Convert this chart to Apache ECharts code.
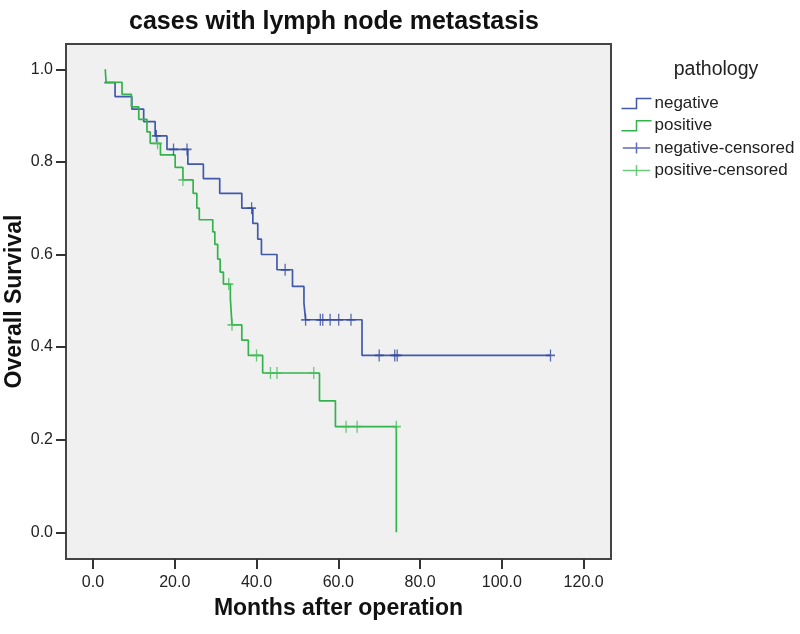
<!DOCTYPE html>
<html>
<head>
<meta charset="utf-8">
<script src="https://cdn.jsdelivr.net/npm/echarts@6/dist/echarts.min.js"></script>
<style>html,body{margin:0;padding:0;background:#fff}#c{width:800px;height:634px}</style>
</head>
<body>
<div id="c"></div>
<script>
// Kaplan-Meier step data (time in months, survival after the event)
const negTimes = [2.8, 5.4, 9.5, 12.4, 15.2, 18.1, 23.2, 27.0, 31.0, 36.4, 39.1, 40.3, 41.2, 45.0, 48.8, 51.6, 52.0, 65.8, 111.9];
const negSurv  = [0.971, 0.941, 0.914, 0.887, 0.856, 0.827, 0.795, 0.764, 0.732, 0.700, 0.667, 0.633, 0.600, 0.567, 0.531, 0.495, 0.459, 0.382, 0.382];
const posTimes = [3.0, 3.2, 7.1, 9.4, 11.2, 13.2, 14.0, 16.5, 20.1, 22.0, 24.5, 25.4, 26.0, 29.3, 29.8, 30.5, 31.1, 31.9, 33.6, 34.0, 36.4, 38.0, 41.5, 55.4, 59.3, 74.2];
const posSurv  = [1.0, 0.972, 0.946, 0.919, 0.892, 0.865, 0.840, 0.815, 0.788, 0.761, 0.732, 0.700, 0.675, 0.649, 0.622, 0.590, 0.562, 0.536, 0.505, 0.448, 0.415, 0.382, 0.344, 0.284, 0.228, 0.0];
// censored observations
const negCensTimes = [15.5, 19.7, 23.0, 38.8, 47.0, 52.0, 55.6, 56.2, 58.0, 60.1, 63.1, 70.0, 73.8, 74.4, 111.9];
const negCensSurv  = [0.856, 0.827, 0.827, 0.700, 0.567, 0.459, 0.459, 0.459, 0.459, 0.459, 0.459, 0.382, 0.382, 0.382, 0.382];
const posCensTimes = [15.8, 22.0, 33.2, 34.0, 40.0, 43.4, 45.0, 54.0, 61.9, 64.6, 74.2];
const posCensSurv  = [0.840, 0.761, 0.536, 0.448, 0.382, 0.344, 0.344, 0.344, 0.228, 0.228, 0.228];
// axis ticks
const xTicks = [0, 20, 40, 60, 80, 100, 120];
const yTicks = [0, 0.2, 0.4, 0.6, 0.8, 1.0];
const seriesNames = ['negative', 'positive', 'negative-censored', 'positive-censored'];

const zip = (a, b) => a.map((v, i) => [v, b[i]]);

const cNeg = '#4159a9', cPos = '#34b24b', cNegC = '#34499f', cPosC = '#47bd5a';
const stepIcon = 'path://M0,10 L15,10 L15,0 L30,0';
const censIcon = 'path://M0,6 L30,6 M15,0 L15,12';
const censSym = 'path://M5,0 L5,12 M0,6 L10,6';

const chart = echarts.init(document.getElementById('c'), null, {renderer: 'canvas'});
chart.setOption({
  animation: false,
  backgroundColor: '#ffffff',
  textStyle: {fontFamily: 'Liberation Sans, Arial, sans-serif'},
  title: [
    {text: 'cases with lymph node metastasis', left: 329, top: 5, textAlign: 'center',
     textStyle: {fontSize: 25, fontWeight: 'bold', color: '#111'}},
    {text: 'pathology', left: 711, top: 55, textAlign: 'center',
     textStyle: {fontSize: 19.5, fontWeight: 'normal', color: '#222'}}
  ],
  legend: {
    orient: 'vertical', left: 619, top: 95, padding: 0, itemWidth: 30, itemHeight: 11, itemGap: 5.3,
    textStyle: {fontSize: 17, color: '#222', padding: [0, 0, 0, -2]},
    data: [
      {name: seriesNames[0], icon: stepIcon, itemStyle: {color: 'none', borderColor: cNeg, borderWidth: 1.5}},
      {name: seriesNames[1], icon: stepIcon, itemStyle: {color: 'none', borderColor: cPos, borderWidth: 1.5}},
      {name: seriesNames[2], icon: censIcon, itemStyle: {color: 'none', borderColor: cNegC, borderWidth: 1.5}},
      {name: seriesNames[3], icon: censIcon, itemStyle: {color: 'none', borderColor: cPosC, borderWidth: 1.5}}
    ]
  },
  grid: {left: 66, right: 189, top: 44, bottom: 75, show: true, backgroundColor: '#f0f0f0',
         borderColor: '#444', borderWidth: 2, containLabel: false, outerBoundsMode: 'none'},
  xAxis: {
    type: 'value', min: -6.6, max: 126.7,
    name: 'Months after operation', nameLocation: 'middle', nameGap: 38, nameMoveOverlap: false,
    nameTextStyle: {fontSize: 23, fontWeight: 'bold', color: '#111'},
    axisLine: {show: false, onZero: false},
    axisTick: {show: true, length: 10, customValues: xTicks, lineStyle: {color: '#333', width: 2}},
    axisLabel: {customValues: xTicks, fontSize: 16, color: '#222', margin: 16, formatter: v => v.toFixed(1)},
    splitLine: {show: false}
  },
  yAxis: {
    type: 'value', min: -0.0577, max: 1.0546,
    name: 'Overall Survival', nameLocation: 'middle', nameGap: 40, nameMoveOverlap: false,
    nameTextStyle: {fontSize: 23, fontWeight: 'bold', color: '#111'},
    axisLine: {show: false, onZero: false},
    axisTick: {show: true, length: 10, customValues: yTicks, lineStyle: {color: '#333', width: 2}},
    axisLabel: {customValues: yTicks, fontSize: 16, color: '#222', margin: 13, formatter: v => v.toFixed(1)},
    splitLine: {show: false}
  },
  series: [
    {name: seriesNames[0], type: 'line', step: 'end', data: zip(negTimes, negSurv), showSymbol: false,
     lineStyle: {color: cNeg, width: 1.7}, itemStyle: {color: cNeg}, z: 2},
    {name: seriesNames[1], type: 'line', step: 'end', data: zip(posTimes, posSurv), showSymbol: false,
     lineStyle: {color: cPos, width: 1.7}, itemStyle: {color: cPos}, z: 2},
    {name: seriesNames[2], type: 'scatter', data: zip(negCensTimes, negCensSurv), symbol: censSym, symbolSize: [9, 12],
     itemStyle: {color: 'none', borderColor: cNegC, borderWidth: 1.5}, z: 3},
    {name: seriesNames[3], type: 'scatter', data: zip(posCensTimes, posCensSurv), symbol: censSym, symbolSize: [9, 12],
     itemStyle: {color: 'none', borderColor: cPosC, borderWidth: 1.5}, z: 3}
  ]
});
</script>
</body>
</html>
